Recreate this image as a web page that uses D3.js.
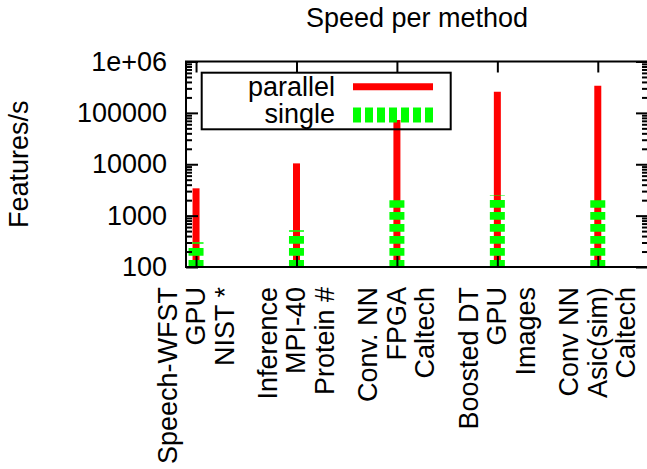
<!DOCTYPE html>
<html>
<head>
<meta charset="utf-8">
<script src="https://cdn.jsdelivr.net/npm/d3@7"></script>
<style>
  body { margin: 0; background: #fff; }
  text { font-family: "Liberation Sans", Arial, sans-serif; fill: #000; }
</style>
</head>
<body>
<svg width="647" height="469"></svg>
<script>
// data
var labelLines = [
  ["Speech-WFST", "GPU", "NIST *"],
  ["Inference", "MPI-40", "Protein #"],
  ["Conv. NN", "FPGA", "Caltech"],
  ["Boosted DT", "GPU", "Images"],
  ["Conv NN", "Asic(sim)", "Caltech"]
];
var parallel = [3400, 10400, 72600, 258000, 338000];
var single = [303, 520, 2000, 2500, 2000];
var majorTicks = [100, 1000, 10000, 100000, 1000000];
var seriesNames = ["parallel", "single"];

var svg = d3.select("svg");
var fontSize = 27;

var margin = {left: 186, top: 61.5, right: 648, bottom: 267};

// set the ranges
var x = d3.scaleLinear().domain([-0.1, 4.5]).range([margin.left, margin.right]);
var y = d3.scaleLog().domain([100, 1e6]).range([margin.bottom, margin.top]);

var minorTicks = [];
majorTicks.slice(0, -1).forEach(function(m) {
  for (var k = 2; k <= 9; k++) minorTicks.push(m * k);
});

var fmt = function(d) { return d >= 1e6 ? "1e+06" : String(d); };

// title
svg.append("text")
  .attr("x", (margin.left + margin.right) / 2)
  .attr("y", 27)
  .attr("text-anchor", "middle")
  .style("font-size", fontSize + "px")
  .text("Speed per method");

// y label
svg.append("text")
  .attr("transform", "translate(28," + (margin.top + margin.bottom) / 2 + ") rotate(-90)")
  .attr("text-anchor", "middle")
  .style("font-size", fontSize + "px")
  .text("Features/s");

var cats = d3.range(labelLines.length);

// bars: parallel (red, solid) then single (green, dashed)
svg.append("g").selectAll("line")
  .data(parallel)
  .enter().append("line")
  .attr("x1", function(d, i) { return x(i); })
  .attr("x2", function(d, i) { return x(i); })
  .attr("y1", y(100))
  .attr("y2", function(d) { return y(d); })
  .style("stroke", "#ff0000")
  .style("stroke-width", 7);

svg.append("g").selectAll("line")
  .data(single)
  .enter().append("line")
  .attr("x1", function(d, i) { return x(i); })
  .attr("x2", function(d, i) { return x(i); })
  .attr("y1", y(100) + 0.7)
  .attr("y2", function(d) { return y(d); })
  .style("stroke", "#00ff00")
  .style("stroke-width", 15)
  .style("stroke-dasharray", "7.7,4.3");

// axes (ticks drawn inward, gnuplot style)
function tickAxis(axis, tx, ty, vals, size, labels) {
  var g = svg.append("g")
    .attr("transform", "translate(" + tx + "," + ty + ")")
    .call(axis.tickValues(vals).tickSize(-size).tickPadding(19)
      .tickFormat(labels ? fmt : function() { return ""; }));
  g.select(".domain").remove();
  g.selectAll(".tick line").style("stroke", "#000").style("stroke-width", 2);
  g.selectAll(".tick text").style("font-size", fontSize + "px").attr("font-family", null);
  return g;
}

tickAxis(d3.axisLeft(y), margin.left, 0, majorTicks, 12, true);
tickAxis(d3.axisLeft(y), margin.left, 0, minorTicks, 6, false);
tickAxis(d3.axisRight(y), margin.right, 0, majorTicks, 12, false);
tickAxis(d3.axisRight(y), margin.right, 0, minorTicks, 6, false);
tickAxis(d3.axisTop(x), 0, margin.top, cats, 11, false);
tickAxis(d3.axisBottom(x), 0, margin.bottom, cats, 11, false);

// border
svg.append("rect")
  .attr("x", margin.left)
  .attr("y", margin.top)
  .attr("width", margin.right - margin.left)
  .attr("height", margin.bottom - margin.top)
  .style("fill", "none")
  .style("stroke", "#000")
  .style("stroke-width", 2);

// category labels, three rotated lines each
cats.forEach(function(i) {
  labelLines[i].forEach(function(line, j) {
    svg.append("text")
      .attr("transform", "translate(" + (x(i) + 9 + (j - 1) * 28.5) + ",287) rotate(-90)")
      .attr("text-anchor", "end")
      .style("font-size", fontSize + "px")
      .text(line);
  });
});

// legend
var legend = svg.append("g");
legend.append("rect")
  .attr("x", 201.7)
  .attr("y", 72.7)
  .attr("width", 249)
  .attr("height", 56.6)
  .style("fill", "none")
  .style("stroke", "#000")
  .style("stroke-width", 2);

legend.append("text")
  .attr("x", 335).attr("y", 95.5)
  .attr("text-anchor", "end")
  .style("font-size", fontSize + "px")
  .text(seriesNames[0]);

legend.append("text")
  .attr("x", 335).attr("y", 123)
  .attr("text-anchor", "end")
  .style("font-size", fontSize + "px")
  .text(seriesNames[1]);

legend.append("line")
  .attr("x1", 353).attr("x2", 433)
  .attr("y1", 86.7).attr("y2", 86.7)
  .style("stroke", "#ff0000")
  .style("stroke-width", 7);

legend.append("line")
  .attr("x1", 353).attr("x2", 433)
  .attr("y1", 115).attr("y2", 115)
  .style("stroke", "#00ff00")
  .style("stroke-width", 15)
  .style("stroke-dasharray", "8,4");
</script>
</body>
</html>
